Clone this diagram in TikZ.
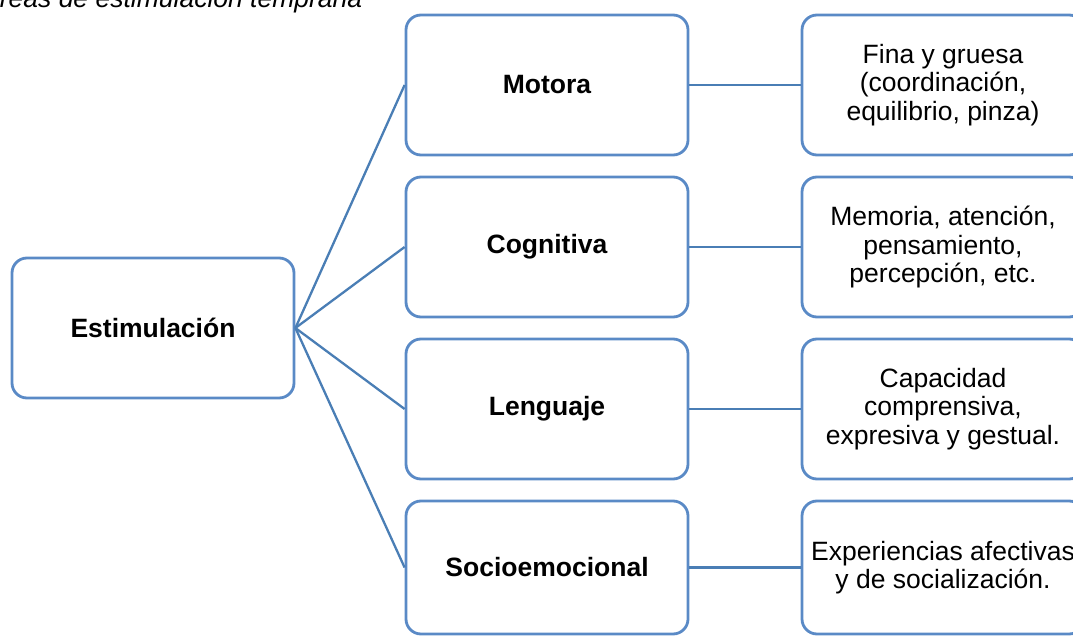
\documentclass[tikz,border=0pt]{standalone}
\usepackage{fontspec}
\setmainfont{Liberation Sans}
\definecolor{borde}{HTML}{5A8AC6}
\definecolor{linea}{HTML}{4A7EB5}
\tikzset{
  caja/.style={draw=borde, line width=2.8pt, rounded corners=15pt, minimum width=282pt,
    minimum height=140pt, align=center, inner sep=0pt, font=\fontsize{26.5}{28.5}\selectfont},
  titulo/.style={caja, font=\fontsize{26.5}{28.5}\selectfont\bfseries},
  enlace/.style={draw=linea, line width=2.3pt}
}
\begin{document}
\begin{tikzpicture}[x=1pt,y=-1pt]
\useasboundingbox (0,0) rectangle (1073,636);
\node[anchor=base west, inner sep=0pt, font=\fontsize{26.5}{28.5}\selectfont\itshape] (nombre) at (-18,7.5) {Áreas de estimulación temprana};

\node[titulo] (estim) at (153,328) {Estimulación};

\node[titulo] (motora) at (547,85) {Motora};
\node[titulo] (cogn) at (547,247) {Cognitiva};
\node[titulo] (leng) at (547,409) {Lenguaje};
\node[titulo, minimum height=133pt] (socio) at (547,567.5) {Socioemocional};

\node[caja] (fina) at (943,85) {Fina y gruesa\\(coordinación,\\equilibrio, pinza)};
\node[caja] (memo) at (943,247) {Memoria, atención,\\pensamiento,\\percepción, etc.};
\node[caja] (capa) at (943,409) {Capacidad\\comprensiva,\\expresiva y gestual.};
\node[caja, minimum height=133pt] (expe) at (943,567.5) {Experiencias afectivas\\y de socialización.};

\draw[enlace] (estim.east) -- (motora.west);
\draw[enlace] (estim.east) -- (cogn.west);
\draw[enlace] (estim.east) -- (leng.west);
\draw[enlace] (estim.east) -- (socio.west);

\draw[enlace] (motora) -- (fina);
\draw[enlace] (cogn) -- (memo);
\draw[enlace] (leng) -- (capa);
\draw[enlace] (socio) -- (expe);
\end{tikzpicture}
\end{document}
